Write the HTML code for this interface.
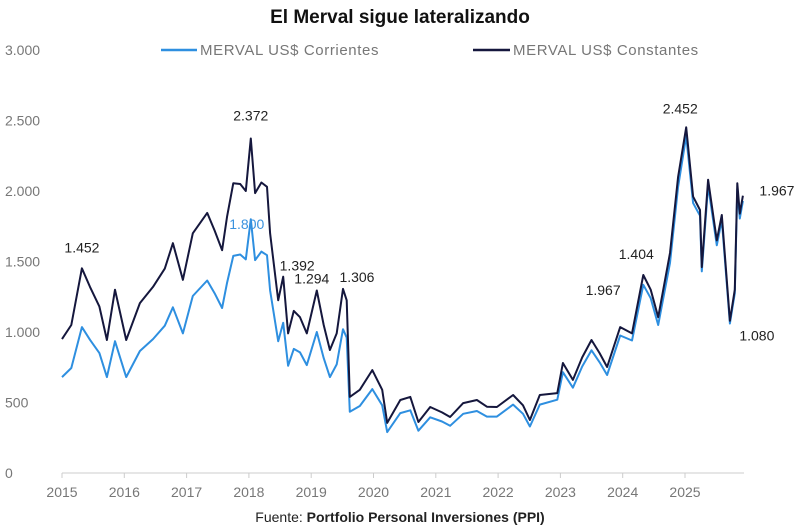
<!DOCTYPE html>
<html><head><meta charset="utf-8">
<style>
body{margin:0;background:#fff;width:800px;height:527px;overflow:hidden;font-family:"Liberation Sans",sans-serif;}
svg{display:block}
</style></head>
<body>
<svg id="chart" width="800" height="527">
  <text x="400" y="23" text-anchor="middle" font-size="19" font-weight="bold" fill="#111">El Merval sigue lateralizando</text>
  <g>
    <line x1="161" y1="50" x2="197" y2="50" stroke="#2e8fe0" stroke-width="2.5"/>
    <text x="200" y="55" font-size="15" letter-spacing="0.6" fill="#777">MERVAL US$ Corrientes</text>
    <line x1="473" y1="50" x2="510" y2="50" stroke="#15173d" stroke-width="2.5"/>
    <text x="513" y="55" font-size="15" letter-spacing="0.6" fill="#777">MERVAL US$ Constantes</text>
  </g>
  <g id="axes"></g>
  <g id="series"></g>
  <g id="labels"></g>
  <text x="400" y="522" text-anchor="middle" font-size="14" fill="#222">Fuente: <tspan font-weight="bold">Portfolio Personal Inversiones (PPI)</tspan></text>
</svg>
<script>
const years = [2015.0,2015.15,2015.32,2015.45,2015.6,2015.72,2015.85,2016.03,2016.25,2016.46,2016.65,2016.78,2016.94,2017.1,2017.33,2017.45,2017.57,2017.65,2017.75,2017.86,2017.95,2018.03,2018.1,2018.2,2018.29,2018.34,2018.47,2018.55,2018.63,2018.72,2018.82,2018.93,2019.09,2019.2,2019.3,2019.41,2019.51,2019.57,2019.62,2019.78,2019.98,2020.14,2020.22,2020.43,2020.59,2020.72,2020.91,2021.1,2021.23,2021.44,2021.66,2021.82,2021.98,2022.24,2022.4,2022.51,2022.67,2022.95,2023.04,2023.2,2023.35,2023.5,2023.63,2023.75,2023.96,2024.15,2024.33,2024.45,2024.57,2024.76,2024.89,2025.02,2025.13,2025.24,2025.27,2025.37,2025.51,2025.59,2025.72,2025.8,2025.84,2025.88,2025.93];
const constantes = [950,1050,1452,1320,1180,943,1300,943,1205,1320,1450,1630,1370,1700,1845,1720,1580,1820,2055,2050,2000,2372,1985,2060,2030,1700,1225,1392,990,1150,1105,990,1294,1050,872,990,1306,1225,540,590,730,590,355,518,540,362,468,430,397,496,518,470,468,553,480,376,553,567,780,660,820,943,850,752,1035,990,1404,1300,1105,1560,2100,2452,1960,1865,1460,2080,1650,1830,1080,1300,2055,1840,1967];
const corrientes = [680,745,1035,945,850,680,935,680,865,950,1045,1175,990,1255,1365,1275,1170,1350,1540,1550,1515,1800,1510,1570,1545,1295,935,1065,760,880,855,765,1000,815,680,770,1020,960,435,475,595,480,290,425,445,300,395,365,335,420,440,400,400,485,420,330,485,520,715,605,755,870,785,695,975,940,1335,1240,1050,1490,2030,2390,1915,1825,1430,2040,1615,1795,1060,1275,2015,1805,1930];
const yTicks = [0,500,1000,1500,2000,2500,3000];
const yTickLabels = ["0","500","1.000","1.500","2.000","2.500","3.000"];
const xTicks = [2015,2016,2017,2018,2019,2020,2021,2022,2023,2024,2025];
const annotations = [
  {t:"1.452",year:2015.32,v:1452,dx:0,dy:-16,c:"#222"},
  {t:"2.372",year:2018.03,v:2372,dx:0,dy:-18,c:"#222"},
  {t:"1.800",year:2018.03,v:1800,dx:-4,dy:10,c:"#3a92de"},
  {t:"1.392",year:2018.55,v:1392,dx:14,dy:-6,c:"#222"},
  {t:"1.294",year:2019.09,v:1294,dx:-5,dy:-7,c:"#222"},
  {t:"1.306",year:2019.51,v:1306,dx:14,dy:-7,c:"#222"},
  {t:"1.967",year:2023.75,v:1070,dx:-4,dy:-27,c:"#222"},
  {t:"1.404",year:2024.33,v:1404,dx:-7,dy:-16,c:"#222"},
  {t:"2.452",year:2025.02,v:2452,dx:-6,dy:-14,c:"#222"},
  {t:"1.967",year:2025.93,v:1967,dx:34,dy:0,c:"#222"},
  {t:"1.080",year:2025.72,v:1080,dx:27,dy:20,c:"#222"}
];
const NS="http://www.w3.org/2000/svg";
const x0=62, xPerYear=62.3, yBase=473, yPer=423/3000;
function xs(y){return x0+(y-2015)*xPerYear;}
function ys(v){return yBase-v*yPer;}
const axes=document.getElementById('axes');
yTicks.forEach((v,i)=>{
  const t=document.createElementNS(NS,'text');
  t.setAttribute('x',5);t.setAttribute('y',ys(v)+5);
  t.setAttribute('font-size','14');t.setAttribute('fill','#777');
  t.textContent=yTickLabels[i];
  
  
  axes.appendChild(t);
});
const ax=document.createElementNS(NS,'line');
ax.setAttribute('x1',62);ax.setAttribute('x2',744);ax.setAttribute('y1',yBase);ax.setAttribute('y2',yBase);
ax.setAttribute('stroke','#ccc');ax.setAttribute('stroke-width','1');


axes.appendChild(ax);
xTicks.forEach(yr=>{
  const l=document.createElementNS(NS,'line');
  l.setAttribute('x1',xs(yr));l.setAttribute('x2',xs(yr));l.setAttribute('y1',yBase);l.setAttribute('y2',yBase+5);
  l.setAttribute('stroke','#ccc');
  
  
  axes.appendChild(l);
  const t=document.createElementNS(NS,'text');
  t.setAttribute('x',xs(yr));t.setAttribute('y',497);t.setAttribute('text-anchor','middle');
  t.setAttribute('font-size','14');t.setAttribute('fill','#777');
  t.textContent=yr;
  
  
  axes.appendChild(t);
});
const series=document.getElementById('series');
function drawLine(vals,color,name){
  const p=document.createElementNS(NS,'path');
  let d='';
  vals.forEach((v,i)=>{d+=(i?'L':'M')+xs(years[i]).toFixed(1)+','+ys(v).toFixed(1);});
  p.setAttribute('d',d);p.setAttribute('fill','none');p.setAttribute('stroke',color);
  p.setAttribute('stroke-width','2');p.setAttribute('stroke-linejoin','round');
  
  
  series.appendChild(p);
}
drawLine(corrientes,'#2e8fe0','line-corrientes');
drawLine(constantes,'#15173d','line-constantes');
const labels=document.getElementById('labels');
annotations.forEach(a=>{
  const t=document.createElementNS(NS,'text');
  t.setAttribute('x',xs(a.year)+a.dx);t.setAttribute('y',ys(a.v)+a.dy);
  t.setAttribute('text-anchor','middle');t.setAttribute('font-size','14');t.setAttribute('fill',a.c);
  t.textContent=a.t;
  
  
  labels.appendChild(t);
});
</script>
</body></html>
